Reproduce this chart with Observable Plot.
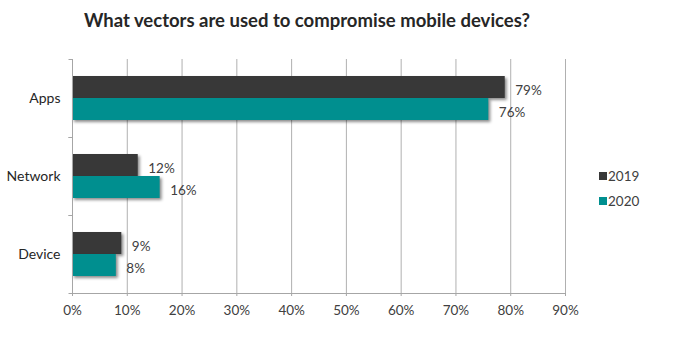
<!DOCTYPE html>
<html><head><meta charset="utf-8">
<script src="https://cdn.jsdelivr.net/npm/d3@7"></script>
<script src="https://cdn.jsdelivr.net/npm/@observablehq/plot@0.6"></script>
<style>
body{margin:0;background:#fff;font-family:Lato,"Open Sans",sans-serif}
#wrap{position:relative;width:689px;height:353px;overflow:hidden}
#title{position:absolute;left:0;width:614px;top:9px;text-align:center;font-weight:700;font-size:18.5px;color:#262626;z-index:2}
#legend{position:absolute;left:599px;top:163px;font-size:13.5px;color:#404040;z-index:2}
#legend div{display:flex;align-items:center;height:25px}
#legend span.sw{display:inline-block;width:8px;height:8px;margin-right:1px}
g[aria-label="bar"] rect{filter:drop-shadow(2px 2px 1.5px rgba(0,0,0,0.45))}
#chart{position:absolute;left:0;top:0}
</style></head>
<body>
<div id="wrap">
<div id="title">What vectors are used to compromise mobile devices?</div>
<div id="legend"></div>
<div id="chart"></div>
</div>
<script>
const categories = ["Apps", "Network", "Device"];
const years = ["2019", "2020"];
const values2019 = [79, 12, 9];
const values2020 = [76, 16, 8];
const xTicks = [0, 10, 20, 30, 40, 50, 60, 70, 80, 90];
const colors = ["#383838", "#008f8f"];

const table = categories.flatMap((c, i) => [
  {category: c, year: years[0], value: values2019[i]},
  {category: c, year: years[1], value: values2020[i]}
]);

// Drawn in each facet: the category axis line and its boundary ticks.
const facetAxisLines = (index, scales, values, dimensions) => {
  const {height, marginTop, marginBottom} = dimensions;
  const x = scales.x;
  const top = marginTop;
  const bottom = height - marginBottom;
  const g = d3.create("svg:g").attr("stroke", "#a6a6a6").attr("stroke-width", 1);
  const x0 = Math.round(x(0)) + 0.5;
  g.append("line").attr("x1", x0).attr("x2", x0).attr("y1", top).attr("y2", bottom);
  [top, bottom].forEach(y => {
    g.append("line").attr("x1", x0 - 4).attr("x2", x0).attr("y1", Math.round(y) + 0.5).attr("y2", Math.round(y) + 0.5);
  });
  return g.node();
};

const chart = Plot.plot({
  width: 689,
  height: 353,
  marginLeft: 72,
  marginRight: 124,
  marginTop: 58,
  marginBottom: 59,
  style: {fontFamily: "Lato, 'Open Sans', sans-serif", fontSize: "13.5px", color: "#404040", background: "transparent"},
  x: {domain: [0, 90]},
  y: {domain: years, paddingInner: 0, paddingOuter: 0.73, axis: null},
  fy: {domain: categories, padding: 0, label: null},
  color: {domain: years, range: colors},
  marks: [
    Plot.gridX(xTicks, {stroke: "#b0b0b0", strokeOpacity: 1}),
    Plot.barX(table, {fy: "category", y: "year", x: "value", fill: "year"}),
    Plot.text(table, {fy: "category", y: "year", x: "value", text: d => d.value + "%", textAnchor: "start", dx: 10, dy: 3, fill: "#404040"}),
    Plot.axisX(xTicks, {tickFormat: d => d + "%", tickSize: 3, stroke: "#a6a6a6", fill: "#404040", tickPadding: 9, label: null}),
    Plot.axisFy({anchor: "left", tickSize: 0, tickPadding: 12, label: null, fill: "#262626", fontSize: 14}),
    Plot.frame({anchor: "bottom", facetAnchor: "bottom", stroke: "#a6a6a6"}),
    facetAxisLines
  ]
});
document.getElementById("chart").appendChild(chart);

const legend = document.getElementById("legend");
years.forEach((y, i) => {
  const row = document.createElement("div");
  const sw = document.createElement("span");
  sw.className = "sw";
  sw.style.background = colors[i];
  row.appendChild(sw);
  row.appendChild(document.createTextNode(y));
  legend.appendChild(row);
});
</script>
</body></html>
